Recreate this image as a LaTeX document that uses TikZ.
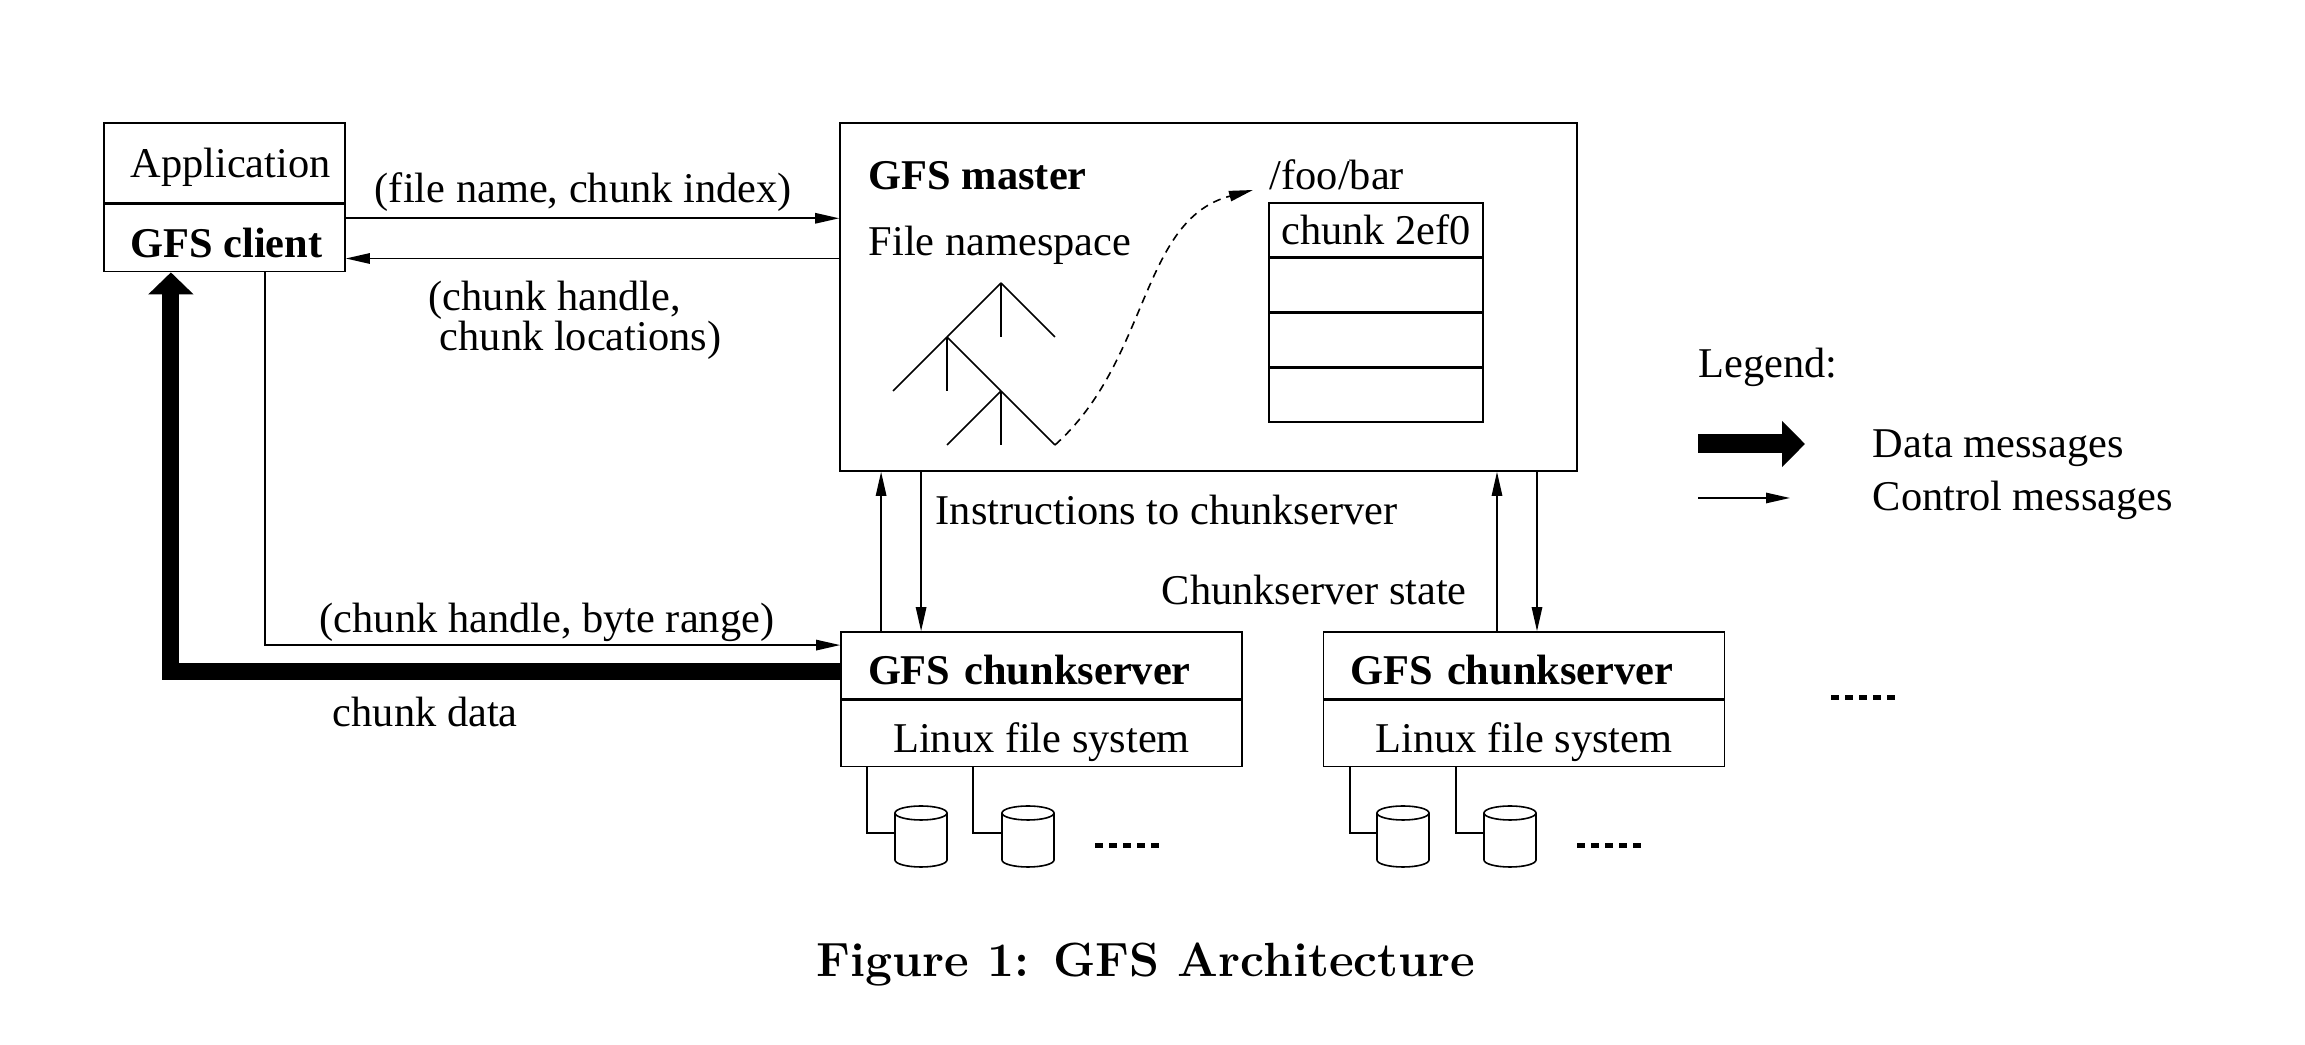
\documentclass[tikz,border=0pt]{standalone}
\usepackage{fontspec}
\newfontfamily\gfsfont{Liberation Serif}
\usetikzlibrary{arrows.meta}
\newcommand\gfstext{\gfsfont\fontsize{10.6}{12}\selectfont}
\tikzset{
  box/.style={draw, rectangle, inner sep=0pt, text height=8.5pt, text depth=1pt},
  lowbox/.style={box, text height=10.5pt},
  lbl/.style={inner sep=0pt, anchor=base west},
  bold/.style={font=\gfstext\bfseries},
  ctrl/.style={-{Triangle[length=6pt,width=2.6pt]}},
  data/.style={line width=4.25pt, -{Triangle[length=5.5pt,width=11pt]}},
  dots/.style={line width=1.25pt, dash pattern=on 2pt off 1.5pt},
  disk/.pic={
    \draw (-26,0) -- (-26,-47) arc[start angle=180, end angle=360, x radius=26, y radius=7] -- (26,0);
    \draw (0,0) ellipse [x radius=26, y radius=7];
    \coordinate (-in) at (-26,-20);
  }
}
\begin{document}
\begin{tikzpicture}[x=0.25pt,y=0.25pt,yscale=-1,xscale=1, font=\gfstext]
\useasboundingbox (0,0) rectangle (2305,1045);
%Client
\node[box, minimum width=60.25pt, minimum height=20pt] (app) at (224.5,163) {\makebox[47pt][l]{Application}};
\node[lowbox, bold, minimum width=60.25pt, minimum height=16.75pt, anchor=north] (client) at (app.south) {\makebox[47pt][l]{GFS client}};
%Master
\node[box, minimum width=184.25pt, minimum height=87pt] (master) at (1208.5,297) {};
\node[lbl, bold] (mtitle) at (868,190) {GFS master};
\node[lbl] (nspace) at (868,256) {File namespace};
\node[lbl] (fpath) at (1269,190) {/foo/bar};
%Chunk table
\node[box, minimum width=53.5pt, minimum height=13.375pt] (row1) at (1376,230) {chunk 2ef0};
\node[box, minimum width=53.5pt, minimum height=13.375pt, anchor=north] (row2) at (row1.south) {};
\node[box, minimum width=53.5pt, minimum height=13.375pt, anchor=north] (row3) at (row2.south) {};
\node[box, minimum width=53.5pt, minimum height=13.375pt, anchor=north] (row4) at (row3.south) {};
%Namespace tree
\coordinate (leaf) at (1055,445);
\draw (1001,283) -- (947,337) (1001,283) -- (1001,337) (1001,283) -- (1055,337);
\draw (947,337) -- (893,391) (947,337) -- (947,391) (947,337) -- (1001,391);
\draw (1001,391) -- (947,445) (1001,391) -- (1001,445) (1001,391) -- (leaf);
\draw[ctrl, dash pattern=on 2pt off 1.5pt] (leaf) .. controls (1150,360) and (1140,220) .. ([xshift=-4pt]fpath.base west);
%Chunkservers
\node[lowbox, bold, align=left, text width=86.75pt, inner xsep=6.75pt, minimum height=16.75pt] (cs1top) at (1041.5,665.5) {GFS chunkserver};
\node[lowbox, minimum width=100.25pt, minimum height=16.5pt, anchor=north] (cs1fs) at (cs1top.south) {Linux file system};
\node[lowbox, bold, align=left, text width=86.75pt, inner xsep=6.75pt, minimum height=16.75pt] (cs2top) at (1524,665.5) {GFS chunkserver};
\node[lowbox, minimum width=100.25pt, minimum height=16.5pt, anchor=north] (cs2fs) at (cs2top.south) {Linux file system};
%Disks
\pic (d11) at (921,813) {disk};
\pic (d12) at (1028,813) {disk};
\pic (d21) at (1403,813) {disk};
\pic (d22) at (1510,813) {disk};
\draw ([xshift=6.75pt]cs1fs.south west) |- (d11-in);
\draw ([xshift=33.25pt]cs1fs.south west) |- (d12-in);
\draw ([xshift=6.75pt]cs2fs.south west) |- (d21-in);
\draw ([xshift=33.25pt]cs2fs.south west) |- (d22-in);
\draw[dots] (1095,846) -- (1161,846);
\draw[dots] (1577,846) -- (1644,846);
\draw[dots] (1831,698) -- (1899,698);
%Client <-> master
\coordinate (q1) at ([yshift=-4.95pt]client.east);
\coordinate (q2) at ([yshift=5.1pt]client.east);
\draw[ctrl] (q1) -- (q1 -| master.west);
\draw[ctrl] (q2 -| master.west) -- (q2);
\node[lbl] (lfile) at (374,203) {(file name, chunk index)};
\node[lbl] (lhandle) at (428,311) {(chunk handle,};
\node[lbl] (lloc) at (439,351) {chunk locations)};
%Client <-> chunkserver
\draw[ctrl] ([xshift=10.1pt]client.south) |- ([yshift=-5.1pt]cs1top.west);
\draw[data] ([yshift=1.4pt]cs1top.west) -| ([xshift=-13.4pt]client.south);
\node[lbl] (lrange) at (319,633) {(chunk handle, byte range)};
\node[lbl] (ldata) at (332,727) {chunk data};
%Master <-> chunkservers
\coordinate (u1) at ([xshift=-40.1pt]cs1top.north);
\coordinate (v1) at ([xshift=-30.1pt]cs1top.north);
\coordinate (u2) at ([xshift=-6.75pt]cs2top.north);
\coordinate (v2) at ([xshift=3.25pt]cs2top.north);
\draw[ctrl] (u1) -- (u1 |- master.south);
\draw[ctrl] (v1 |- master.south) -- (v1);
\draw[ctrl] (u2) -- (u2 |- master.south);
\draw[ctrl] (v2 |- master.south) -- (v2);
\node[lbl] (linstr) at (935,525) {Instructions to chunkserver};
\node[lbl] (lstate) at (1161,605) {Chunkserver state};
%Legend
\node[lbl] (legend) at (1698,378) {Legend:};
\coordinate (ld1) at (1698,444);
\coordinate (ld2) at (1805,444);
\coordinate (lc1) at (1698,498);
\coordinate (lc2) at (1790,498);
\draw[data, line width=4.75pt, -{Triangle[length=5.75pt,width=11.25pt]}] (ld1) -- (ld2);
\draw[ctrl] (lc1) -- (lc2);
\node[lbl] (ldmsg) at (1872,458) {Data messages};
\node[lbl] (lcmsg) at (1872,511) {Control messages};
%Caption
\node[inner sep=0pt, anchor=base, font=\rmfamily\fontsize{12}{14}\selectfont\bfseries] (caption) at (1146,977) {Figure 1: GFS Architecture};
\end{tikzpicture}
\end{document}
